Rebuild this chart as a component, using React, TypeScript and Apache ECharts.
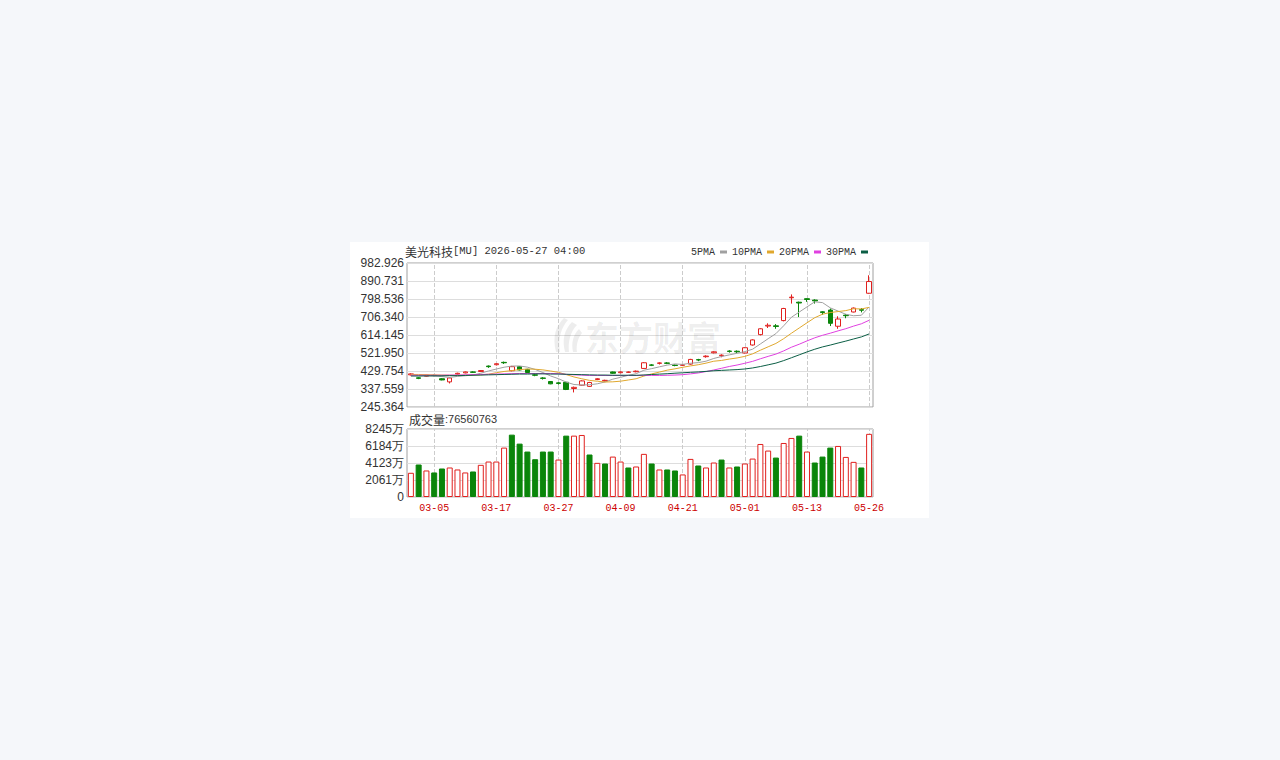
import React, { useEffect, useRef } from "react";
import * as echarts from "echarts";

// 交易日
const dates = [
  "03-02", "03-03", "03-04", "03-05", "03-06", "03-09", "03-10", "03-11", "03-12", "03-13",
  "03-16", "03-17", "03-18", "03-19", "03-20", "03-23", "03-24", "03-25", "03-26", "03-27",
  "03-30", "03-31", "04-01", "04-02", "04-06", "04-07", "04-08", "04-09", "04-10", "04-13",
  "04-14", "04-15", "04-16", "04-17", "04-20", "04-21", "04-22", "04-23", "04-24", "04-27",
  "04-28", "04-29", "04-30", "05-01", "05-04", "05-05", "05-06", "05-07", "05-08", "05-11",
  "05-12", "05-13", "05-14", "05-15", "05-18", "05-19", "05-20", "05-21", "05-22", "05-26",
];
const labelDates = ["03-05", "03-17", "03-27", "04-09", "04-21", "05-01", "05-13", "05-26"];

// K线 开 收 低 高
const opens = [
  410, 395, 403, 407.5, 390, 374, 414, 420, 425, 427,
  455, 462, 474, 431, 452, 438, 410, 394, 376, 369,
  372, 340, 357, 351, 386, 379, 425, 421, 423, 426,
  443, 461, 469, 471, 460, 459, 465, 488, 503, 523,
  508, 532, 531, 522, 563, 616, 660, 661, 688, 805,
  782, 800, 793, 733, 742, 659, 716, 732, 744, 828,
];
const closes = [
  415, 392, 408, 406.5, 384, 394, 418, 425, 423, 432,
  452, 467, 472, 452, 435, 422, 408, 392, 364, 366,
  335, 346, 379, 371, 390, 382, 418, 425, 424.5, 429,
  472, 459, 471, 469, 458, 461, 489, 486, 506, 528,
  511, 530, 528, 549, 589, 646, 664, 658, 750, 808,
  778, 796, 789, 729, 674, 696, 713, 752, 741, 888,
];
const lows = [
  407, 388, 400, 403, 382, 366, 411, 418, 420, 425,
  446, 458, 466, 428, 433, 418, 403, 386, 362, 360,
  332, 320, 355, 348, 383, 376, 415, 418, 420, 423,
  440, 455, 463, 465, 454, 456, 462, 480, 498, 520,
  500, 524, 522, 520, 560, 612, 650, 646, 684, 775,
  706, 784, 775, 718, 660, 646, 700, 730, 730, 826,
];
const highs = [
  418, 398, 411, 411, 393, 397, 421, 427, 428, 434,
  458, 469, 478, 456, 455, 441, 414, 398, 378, 372,
  374, 350, 382, 374, 393, 385, 427, 428, 427, 432,
  475, 465, 474, 475, 463, 464, 492, 492, 510, 531,
  515, 536, 535, 551, 592, 649, 674, 670, 753, 822,
  785, 802, 797, 736, 750, 710, 722, 755, 752, 920,
];

// 均线
const ma5 = [
  410, 406, 405, 404, 401.1, 396.9, 402.1, 405.5, 408.8, 418.4,
  430, 439.8, 449.2, 455, 455.6, 449.6, 437.8, 421.8, 404.2, 390.4,
  373, 360.6, 358, 359.4, 364.2, 373.6, 388, 397.2, 407.9, 415.7,
  433.7, 441.9, 451.1, 460, 465.8, 463.6, 469.6, 472.6, 480, 494,
  504, 512.2, 520.6, 529.2, 541.4, 568.4, 595.2, 621.2, 661.4, 705.2,
  731.6, 758, 784.2, 780, 753.2, 736.8, 720.2, 712.8, 715.2, 758,
];
const ma10 = [
  412, 412, 411, 410, 409, 408, 408, 408, 409, 409.8,
  413.5, 421, 427.4, 431.9, 437, 439.8, 438.8, 435.5, 429.6, 423,
  411.3, 399.2, 389.9, 381.8, 377.3, 373.3, 374.3, 377.6, 383.7, 390,
  403.7, 415, 424.2, 434, 440.8, 448.7, 455.8, 461.9, 470, 479.9,
  483.8, 490.9, 496.6, 504.6, 517.7, 536.2, 553.7, 570.9, 595.3, 623.3,
  650, 676.6, 702.7, 720.7, 729.2, 734.2, 739.1, 748.5, 747.6, 755.6,
];
const ma20 = [
  408, 408, 408, 408, 408, 409, 409, 410, 411, 412,
  413, 414, 415, 416, 417, 417, 417, 417, 417, 416.4,
  412.4, 410.1, 408.6, 406.9, 407.2, 406.6, 406.6, 406.6, 406.6, 406.5,
  407.5, 407.1, 407, 407.9, 409, 411, 415, 419.7, 426.8, 434.9,
  443.7, 452.9, 460.4, 469.3, 479.2, 492.4, 504.7, 516.4, 532.7, 551.6,
  566.9, 583.8, 599.7, 612.7, 623.5, 635.2, 646.4, 659.7, 671.5, 689.5,
];
const ma30 = [
  404, 404, 405, 405, 405, 406, 406, 407, 408, 409,
  410, 411, 412, 413, 414, 414, 415, 415, 414, 414,
  413, 412, 411, 410, 409, 409, 408, 408, 408, 407.6,
  409.5, 411.7, 413.8, 415.9, 418.4, 420.6, 423, 425, 427.8, 431,
  432.9, 435, 436.9, 440.1, 445.3, 452.7, 461.3, 470.1, 483, 497.7,
  512.5, 527.5, 541.2, 553.1, 562.6, 573, 582.9, 593.8, 604.3, 619.6,
];

// 成交量(万)
const volumes = [
  2935, 3940, 3216, 2975, 3457, 3578, 3337, 2975, 3095, 3900,
  4300, 4300, 5990, 7560, 6470, 5510, 4580, 5510, 5510, 4540,
  7440, 7440, 7520, 5150, 4140, 4060, 4900, 4300, 3578, 3700,
  5230, 4060, 3337, 3337, 3216, 2734, 4620, 3820, 3578, 4180,
  4540, 3578, 3700, 4060, 4660, 6430, 5630, 4780, 6550, 7160,
  7440, 5510, 4180, 4900, 5990, 6190, 4860, 4260, 3578, 7656,
];

// 坐标刻度
const priceTicks = ["245.364", "337.559", "429.754", "521.950", "614.145", "706.340", "798.536", "890.731", "982.926"];
const volTicks = ["0", "2061万", "4123万", "6184万", "8245万"];

const RED = "#e0201e";
const GREEN = "#0a850a";

echarts.graphic.registerShape(
  "emLogo",
  echarts.graphic.extendPath(
    "M14 0 C6 8 2 18 6 34 L10 34 C8 20 11 10 18 2 Z M22 4 C14 12 12 22 15 34 L19 34 C18 24 20 14 27 7 Z M29 11 C23 17 21 25 23 34 L27 34 C26 27 28 20 32 15 Z",
    {}
  )
);

const App: React.FC = () => {
  const chartRef = useRef<HTMLDivElement>(null);

  useEffect(() => {
    const chart = echarts.init(chartRef.current, null, { renderer: "svg" });

    const pMin = parseFloat(priceTicks[0]);
    const pMax = parseFloat(priceTicks[priceTicks.length - 1]);
    const pStep = (pMax - pMin) / (priceTicks.length - 1);
    const vMax = 8245;
    const vStep = vMax / (volTicks.length - 1);

    const candleData = dates.map((_, i) => [opens[i], closes[i], lows[i], highs[i]]);
    // 成交量颜色按收盘价与前收盘比较
    const volData = volumes.map((v, i) => {
      const prev = i === 0 ? opens[0] : closes[i - 1];
      const up = closes[i] >= prev;
      return {
        value: v,
        itemStyle: up
          ? { color: "#ffffff", borderColor: RED, borderWidth: 1 }
          : { color: GREEN, borderColor: GREEN, borderWidth: 1 },
      };
    });
    const markLine = {
      silent: true,
      z: 1,
      symbol: ["none", "none"],
      label: { show: false },
      lineStyle: { color: "#cccccc", type: "dashed", width: 1 },
      data: labelDates.map((d) => ({ xAxis: d })),
    };

    const maLine = (name: string, data: number[], color: string) => ({
      name,
      type: "line",
      xAxisIndex: 0,
      yAxisIndex: 0,
      data,
      symbol: "none",
      showSymbol: false,
      z: 3,
      itemStyle: { color },
      lineStyle: { color, width: 1 },
    });

    const option: any = {
      animation: false,
      graphic: [
        {
          type: "rect",
          z: -10,
          shape: { x: 350, y: 242, width: 579, height: 276 },
          style: { fill: "#ffffff" },
        },
        {
          type: "emLogo",
          x: 550,
          y: 318,
          scaleX: 1,
          scaleY: 1,
          z: 1,
          style: { fill: "rgba(0,0,0,0.07)" },
        },
        {
          type: "text",
          x: 585,
          y: 336,
          z: 1,
          style: {
            text: "东方财富",
            fill: "rgba(0,0,0,0.07)",
            font: "bold 34px 'Noto Sans CJK SC'",
            verticalAlign: "middle",
          },
        },
        {
          type: "text",
          x: 405,
          y: 251,
          style: {
            text: "{a|美光科技}{b|[MU] 2026-05-27 04:00}",
            verticalAlign: "middle",
            rich: {
              a: { fontFamily: "Noto Sans CJK SC", fontSize: 12, fill: "#333333" },
              b: { fontFamily: "Liberation Mono", fontSize: 10.5, fill: "#333333" },
            },
          },
        },
        {
          type: "text",
          x: 409,
          y: 419,
          style: {
            text: "{a|成交量}{b|:76560763}",
            verticalAlign: "middle",
            rich: {
              a: { fontFamily: "Noto Sans CJK SC", fontSize: 12, fill: "#333333" },
              b: { fontFamily: "Liberation Sans", fontSize: 11, fill: "#333333" },
            },
          },
        },
      ],
      legend: {
        left: 686,
        top: 242,
        data: ["5PMA", "10PMA", "20PMA", "30PMA"],
        icon: "rect",
        align: "right",
        itemWidth: 7,
        itemHeight: 3,
        itemGap: 5,
        selectedMode: false,
        textStyle: { fontFamily: "Liberation Mono", fontSize: 10, color: "#333333" },
      },
      grid: [
        { left: 407, top: 263, width: 466, height: 144, show: true, borderColor: "#a0a0a0", borderWidth: 1 },
        { left: 407, top: 429, width: 466, height: 68, show: true, borderColor: "#a0a0a0", borderWidth: 1 },
      ],
      xAxis: [
        {
          type: "category",
          gridIndex: 0,
          data: dates,
          boundaryGap: true,
          axisLine: { show: false },
          axisTick: { show: false },
          axisLabel: { show: false },
          splitLine: { show: false },
        },
        {
          type: "category",
          gridIndex: 1,
          data: dates,
          boundaryGap: true,
          axisLine: { show: false },
          axisTick: { show: false },
          splitLine: { show: false },
          axisLabel: {
            interval: (_: number, v: string) => labelDates.includes(v),
            color: "#cc0000",
            fontFamily: "Liberation Mono",
            fontSize: 10,
            margin: 6,
          },
        },
      ],
      yAxis: [
        {
          type: "value",
          gridIndex: 0,
          min: pMin,
          max: pMax,
          interval: pStep,
          axisLine: { show: false },
          axisTick: { show: false },
          splitLine: { lineStyle: { color: "#dddddd", width: 1 } },
          axisLabel: {
            margin: 3,
            color: "#333333",
            fontFamily: "Liberation Sans",
            fontSize: 12,
            formatter: (v: number) => priceTicks[Math.round((v - pMin) / pStep)] ?? "",
          },
        },
        {
          type: "value",
          gridIndex: 1,
          min: 0,
          max: vMax,
          interval: vStep,
          axisLine: { show: false },
          axisTick: { show: false },
          splitLine: { lineStyle: { color: "#dddddd", width: 1 } },
          axisLabel: {
            margin: 3,
            color: "#333333",
            fontFamily: "Liberation Sans",
            fontSize: 12,
            formatter: (v: number) => volTicks[Math.round(v / vStep)] ?? "",
          },
        },
      ],
      series: [
        {
          name: "K",
          type: "candlestick",
          xAxisIndex: 0,
          yAxisIndex: 0,
          data: candleData,
          barWidth: 5,
          z: 2,
          itemStyle: {
            color: "#ffffff",
            color0: GREEN,
            borderColor: RED,
            borderColor0: GREEN,
            borderWidth: 1,
          },
          markLine,
        },
        maLine("5PMA", ma5, "#a0a0a0"),
        maLine("10PMA", ma10, "#e0a82e"),
        maLine("20PMA", ma20, "#e040e0"),
        maLine("30PMA", ma30, "#0b5e45"),
        {
          name: "VOL",
          type: "bar",
          xAxisIndex: 1,
          yAxisIndex: 1,
          data: volData,
          barWidth: 6,
          z: 2,
          markLine,
        },
      ],
    };

    chart.setOption(option);
    return () => {
      chart.dispose();
    };
  }, []);

  return (
    <div style={{ position: "fixed", left: 0, top: 0, width: 1280, height: 760, background: "#f5f7fa" }}>
      <div ref={chartRef} style={{ width: 1280, height: 760 }} />
    </div>
  );
};

export default App;
